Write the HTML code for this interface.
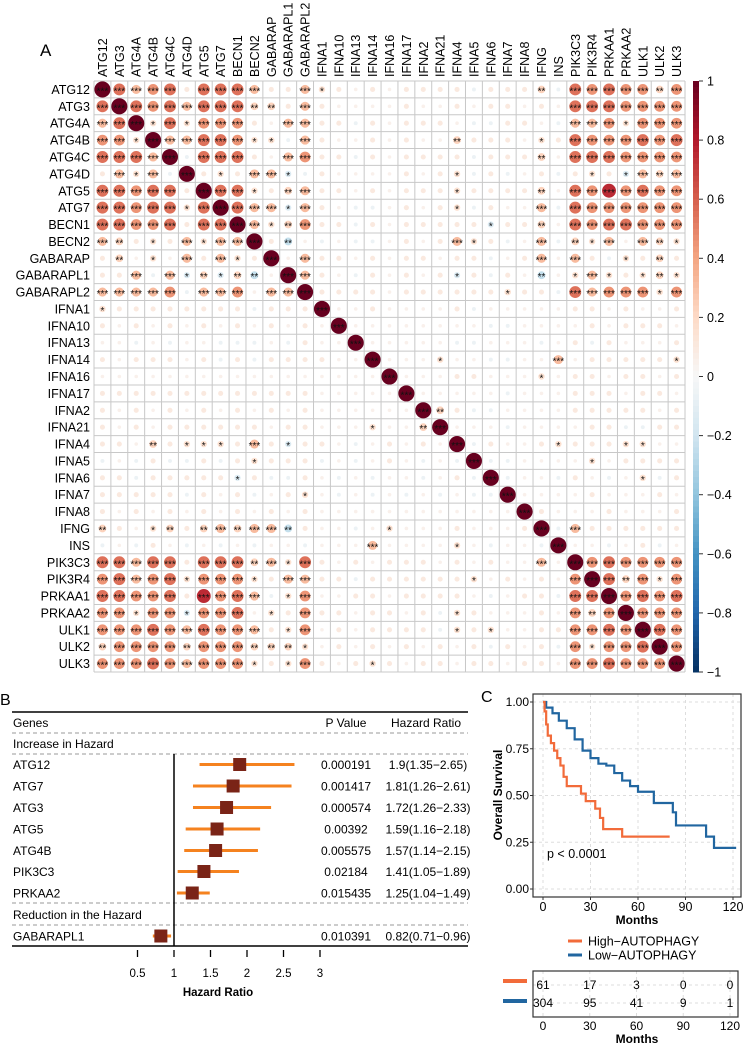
<!DOCTYPE html>
<html><head><meta charset="utf-8"><style>
body{margin:0;background:#fff}
svg text{font-family:"Liberation Sans",Arial,sans-serif}
</style></head><body>
<svg id="fig" width="745" height="1044" viewBox="0 0 745 1044" xmlns="http://www.w3.org/2000/svg">
<g id="corr"></g>
<g id="forest"></g>
<g id="km"></g>
</svg>
<script>
const genes=["ATG12","ATG3","ATG4A","ATG4B","ATG4C","ATG4D","ATG5","ATG7","BECN1","BECN2","GABARAP","GABARAPL1","GABARAPL2","IFNA1","IFNA10","IFNA13","IFNA14","IFNA16","IFNA17","IFNA2","IFNA21","IFNA4","IFNA5","IFNA6","IFNA7","IFNA8","IFNG","INS","PIK3C3","PIK3R4","PRKAA1","PRKAA2","ULK1","ULK2","ULK3"];
// lower-triangle correlation codes, row i has i entries
const corrRows=["","6","46","552","6664","1424a","665661","6656626","66556166","431214244","1302041421","114a4b3b3c0","44445a445044",
"211111111a111","10101010101010","00a0a00aaa0a100","1011101a1a111100","00000000000000000","111111111111100000","1010101010101000000",
"10101111110110002003","11031222141b110a01010","a0a1aa1a12111a0a010a0a","11a11111b1aa10a0a00a01a","11111a101a0120a0a0a0a0aa","1010101010101000000000000",
"31023134344c100a020001000100","a0a10a0a0a00a0004000020a00a"
,"6646616663426101011101010040","564562555214411a1111112010105",
"6655618564a250011011110a011a66","55255b55602151101101a2100010535","55565465541250101111a21200115565","35555355533320101010101a101a52556","5556545552125101210110110110556555"];
const codeVal={"0":0.05,"1":0.1,"2":0.16,"3":0.23,"4":0.32,"5":0.45,"6":0.55,"7":0.65,"8":0.75,"a":-0.06,"b":-0.15,"c":-0.24,"d":-0.3};
const cbTicks=["1","0.8","0.6","0.4","0.2","0","−0.2","−0.4","−0.6","−0.8","−1"];
const cbVals=[1,0.8,0.6,0.4,0.2,0,-0.2,-0.4,-0.6,-0.8,-1];

const fGenes=["ATG12","ATG7","ATG3","ATG5","ATG4B","PIK3C3","PRKAA2","GABARAPL1"];
const fHR=[1.9,1.81,1.72,1.59,1.57,1.41,1.25,0.82];
const fLo=[1.35,1.26,1.26,1.16,1.14,1.05,1.04,0.71];
const fHi=[2.65,2.61,2.33,2.18,2.15,1.89,1.49,0.96];
const fP=["0.000191","0.001417","0.000574","0.00392","0.005575","0.02184","0.015435","0.010391"];
const fTicks=[0.5,1,1.5,2,2.5,3];

const highT=[0,1,2,3,5,7,9,11,13,15,24,27,33,36,38,50,80];
const highS=[1,0.95,0.88,0.82,0.78,0.74,0.70,0.66,0.60,0.55,0.51,0.47,0.43,0.38,0.32,0.28,0.28];
const lowT=[0,2,6,10,15,20,25,30,35,40,45,50,55,60,70,81,82,84,103,108,122];
const lowS=[1,0.97,0.94,0.90,0.86,0.80,0.74,0.70,0.67,0.66,0.62,0.58,0.55,0.52,0.46,0.46,0.41,0.34,0.28,0.22,0.22];
const kmXTicks=[0,30,60,90,120];
const kmYTicks=[0,0.25,0.5,0.75,1];
const kmYLabels=["0.00","0.25","0.50","0.75","1.00"];
const riskHigh=[61,17,3,0,0];
const riskLow=[304,95,41,9,1];

const NS="http://www.w3.org/2000/svg";
function mk(tag,attrs,parent,txt){const e=document.createElementNS(NS,tag);for(const k in attrs)e.setAttribute(k,attrs[k]);if(txt!==undefined)e.textContent=txt;parent.appendChild(e);return e;}
function lerp(a,b,t){return a.map((v,i)=>Math.round(v+(b[i]-v)*t));}
const stops=[[-1,[5,48,97]],[-0.8,[33,102,172]],[-0.6,[67,147,195]],[-0.4,[146,197,222]],[-0.2,[209,229,240]],[0,[247,247,247]],[0.2,[253,219,199]],[0.4,[244,165,130]],[0.6,[214,96,77]],[0.8,[178,24,43]],[1,[103,0,31]]];
function col(v){for(let i=0;i<stops.length-1;i++){if(v<=stops[i+1][0]){const t=(v-stops[i][0])/(stops[i+1][0]-stops[i][0]);const c=lerp(stops[i][1],stops[i+1][1],t);return `rgb(${c})`;}}return "rgb(103,0,31)";}

// ---- correlation matrix
const n=genes.length;
const M=[];for(let i=0;i<n;i++){M.push(new Array(n).fill(0));M[i][i]=1;}
for(let i=1;i<n;i++){const s=corrRows[i]||"";for(let j=0;j<i;j++){const v=codeVal[s[j]]!==undefined?codeVal[s[j]]:0.05;M[i][j]=v;M[j][i]=v;}}
const gx0=94,gy0=81,cs=16.886;
const C=document.getElementById('corr');
const cx=j=>gx0+(j+0.5)*cs, cy=i=>gy0+(i+0.5)*cs;
mk('text',{x:40,y:56,'font-size':17,},C,'A');
for(let i=0;i<n;i++){
  const t=mk('text',{x:90,y:cy(i)+4.5,'font-size':12.5,'text-anchor':'end'},C,genes[i]);
  
  const u=mk('text',{x:0,y:0,'font-size':12.5,transform:`translate(${cx(i)+4.5},77) rotate(-90)`},C,genes[i]);
  
}
for(let i=0;i<=n;i++){
  mk('line',{x1:gx0,x2:gx0+n*cs,y1:gy0+i*cs,y2:gy0+i*cs,stroke:'#c8c8c8','stroke-width':1},C);
  mk('line',{y1:gy0,y2:gy0+n*cs,x1:gx0+i*cs,x2:gx0+i*cs,stroke:'#c8c8c8','stroke-width':1},C);
}
for(let i=0;i<n;i++)for(let j=0;j<n;j++){
  const v=M[i][j],a=Math.abs(v);
  const c=mk('circle',{cx:cx(j),cy:cy(i),r:(cs/2-0.4)*Math.sqrt(a),fill:col(v)},C);
  
  const st=a>=0.3?"***":a>=0.2?"**":a>=0.14?"*":"";
  if(st){const s=mk('text',{x:cx(j),y:cy(i)+5,'font-size':10,'text-anchor':'middle',fill:'#111'},C,st);}
}
// colorbar
const cbX=693,cbW=6,cbT=81,cbB=672;
const cbY=v=>cbT+(1-v)/2*(cbB-cbT);
for(let k=0;k<100;k++){const v1=1-k*0.02;mk('rect',{x:cbX,y:cbY(v1),width:cbW,height:(cbB-cbT)/100+0.5,fill:col(v1-0.01)},C);}
cbVals.forEach((v,k)=>{mk('line',{x1:cbX+cbW,x2:cbX+cbW+4,y1:cbY(v),y2:cbY(v),stroke:'#333'},C);
  const t=mk('text',{x:cbX+14,y:cbY(v)+4.5,'font-size':12.5},C,cbTicks[k]);});

// ---- forest plot
const F=document.getElementById('forest');
const fx=v=>174+(v-1)*73;
mk('text',{x:0,y:705,'font-size':16},F,'B');
mk('line',{x1:12,x2:468,y1:712,y2:712,stroke:'#000','stroke-width':1.5},F);
mk('line',{x1:12,x2:468,y1:946,y2:946,stroke:'#000','stroke-width':1.5},F);
[733,754,903,925].forEach(y=>mk('line',{x1:12,x2:468,y1:y,y2:y,stroke:'#999','stroke-dasharray':'4,3'},F));
mk('text',{x:13,y:727,'font-size':12},F,'Genes');
mk('text',{x:346,y:727,'font-size':12,'text-anchor':'middle'},F,'P Value');
mk('text',{x:426,y:727,'font-size':12,'text-anchor':'middle'},F,'Hazard Ratio');
mk('text',{x:13,y:748,'font-size':12},F,'Increase in Hazard');
mk('text',{x:13,y:919,'font-size':12},F,'Reduction in the Hazard');
mk('line',{x1:174,x2:174,y1:754,y2:946,stroke:'#000','stroke-width':1.5},F);
const fy=[764.5,786,807.5,829,850.5,871.5,893,936];
fGenes.forEach((g,k)=>{
  const y=fy[k];
  mk('text',{x:13,y:y+4.5,'font-size':12},F,g);
  const l=mk('line',{x1:fx(fLo[k]),x2:fx(fHi[k]),y1:y,y2:y,stroke:'#f5821f','stroke-width':3},F);
  
  const r=mk('rect',{x:fx(fHR[k])-6.5,y:y-6.5,width:13,height:13,fill:'#7a2417'},F);
  
  mk('text',{x:346,y:y+4.5,'font-size':12,'text-anchor':'middle'},F,fP[k]);
  mk('text',{x:428,y:y+4.5,'font-size':12,'text-anchor':'middle'},F,`${fHR[k]}(${fLo[k]}−${fHi[k]})`);
});
fTicks.forEach(v=>{mk('line',{x1:fx(v),x2:fx(v),y1:950,y2:957,stroke:'#000','stroke-width':1.3},F);
  mk('text',{x:fx(v),y:977,'font-size':11.5,'text-anchor':'middle'},F,String(v));});
mk('text',{x:218,y:996,'font-size':11.5,'font-weight':'bold','text-anchor':'middle'},F,'Hazard Ratio');

// ---- KM
const K=document.getElementById('km');
const kx=t=>543+t/120*190, ky=s=>889-s*187;
mk('text',{x:481,y:702,'font-size':16},K,'C');
kmXTicks.forEach(t=>mk('line',{x1:kx(t),x2:kx(t),y1:694,y2:897,stroke:'#ddd','stroke-dasharray':'3,3'},K));
kmYTicks.forEach(s=>mk('line',{x1:533,x2:741,y1:ky(s),y2:ky(s),stroke:'#ddd','stroke-dasharray':'3,3'},K));
mk('rect',{x:533,y:694,width:208,height:203,fill:'none',stroke:'#333','stroke-width':1.2},K);
function step(T,S){let d=`M${kx(T[0])},${ky(S[0])}`;for(let i=1;i<T.length;i++){d+=` H${kx(T[i])} V${ky(S[i])}`;}return d;}
const ph=mk('path',{d:step(lowT,lowS),fill:'none',stroke:'#2166a0','stroke-width':2.2},K);
const pl=mk('path',{d:step(highT,highS),fill:'none',stroke:'#f26b3a','stroke-width':2.2},K);
kmYTicks.forEach((s,k)=>{mk('line',{x1:530,x2:533,y1:ky(s),y2:ky(s),stroke:'#333'},K);mk('text',{x:529,y:ky(s)+4,'font-size':12,'text-anchor':'end'},K,kmYLabels[k]);});
kmXTicks.forEach(t=>{mk('line',{x1:kx(t),x2:kx(t),y1:897,y2:900,stroke:'#333'},K);mk('text',{x:kx(t),y:911,'font-size':12.5,'text-anchor':'middle'},K,String(t));});
mk('text',{x:637,y:924,'font-size':12,'font-weight':'bold','text-anchor':'middle'},K,'Months');
mk('text',{x:0,y:0,'font-size':12,'font-weight':'bold','text-anchor':'middle',transform:'translate(502,795) rotate(-90)'},K,'Overall Survival');
mk('text',{x:547,y:858,'font-size':12.5},K,'p < 0.0001');
mk('line',{x1:568,x2:582,y1:941,y2:941,stroke:'#f26b3a','stroke-width':3},K);
mk('text',{x:588,y:945.5,'font-size':12.5},K,'High−AUTOPHAGY');
mk('line',{x1:568,x2:582,y1:955,y2:955,stroke:'#2166a0','stroke-width':3},K);
mk('text',{x:588,y:959.5,'font-size':12.5},K,'Low−AUTOPHAGY');
const rx=t=>543+t/120*187;
kmXTicks.forEach(t=>mk('line',{x1:rx(t),x2:rx(t),y1:971,y2:1017,stroke:'#ddd','stroke-dasharray':'3,3'},K));
[985,1003].forEach(y=>mk('line',{x1:533,x2:738,y1:y,y2:y,stroke:'#ddd','stroke-dasharray':'3,3'},K));
mk('rect',{x:533,y:971,width:205,height:46,fill:'none',stroke:'#333','stroke-width':1.2},K);
mk('line',{x1:503,x2:527,y1:981,y2:981,stroke:'#f26b3a','stroke-width':4},K);
mk('line',{x1:503,x2:527,y1:1001,y2:1001,stroke:'#2166a0','stroke-width':4},K);
kmXTicks.forEach((t,k)=>{
  mk('text',{x:rx(t),y:989,'font-size':12,'text-anchor':'middle'},K,String(riskHigh[k]));
  mk('text',{x:rx(t),y:1007,'font-size':12,'text-anchor':'middle'},K,String(riskLow[k]));
  mk('text',{x:rx(t),y:1030,'font-size':12,'text-anchor':'middle'},K,String(t));
});
mk('text',{x:637,y:1043,'font-size':12,'font-weight':'bold','text-anchor':'middle'},K,'Months');
</script>
</body></html>
